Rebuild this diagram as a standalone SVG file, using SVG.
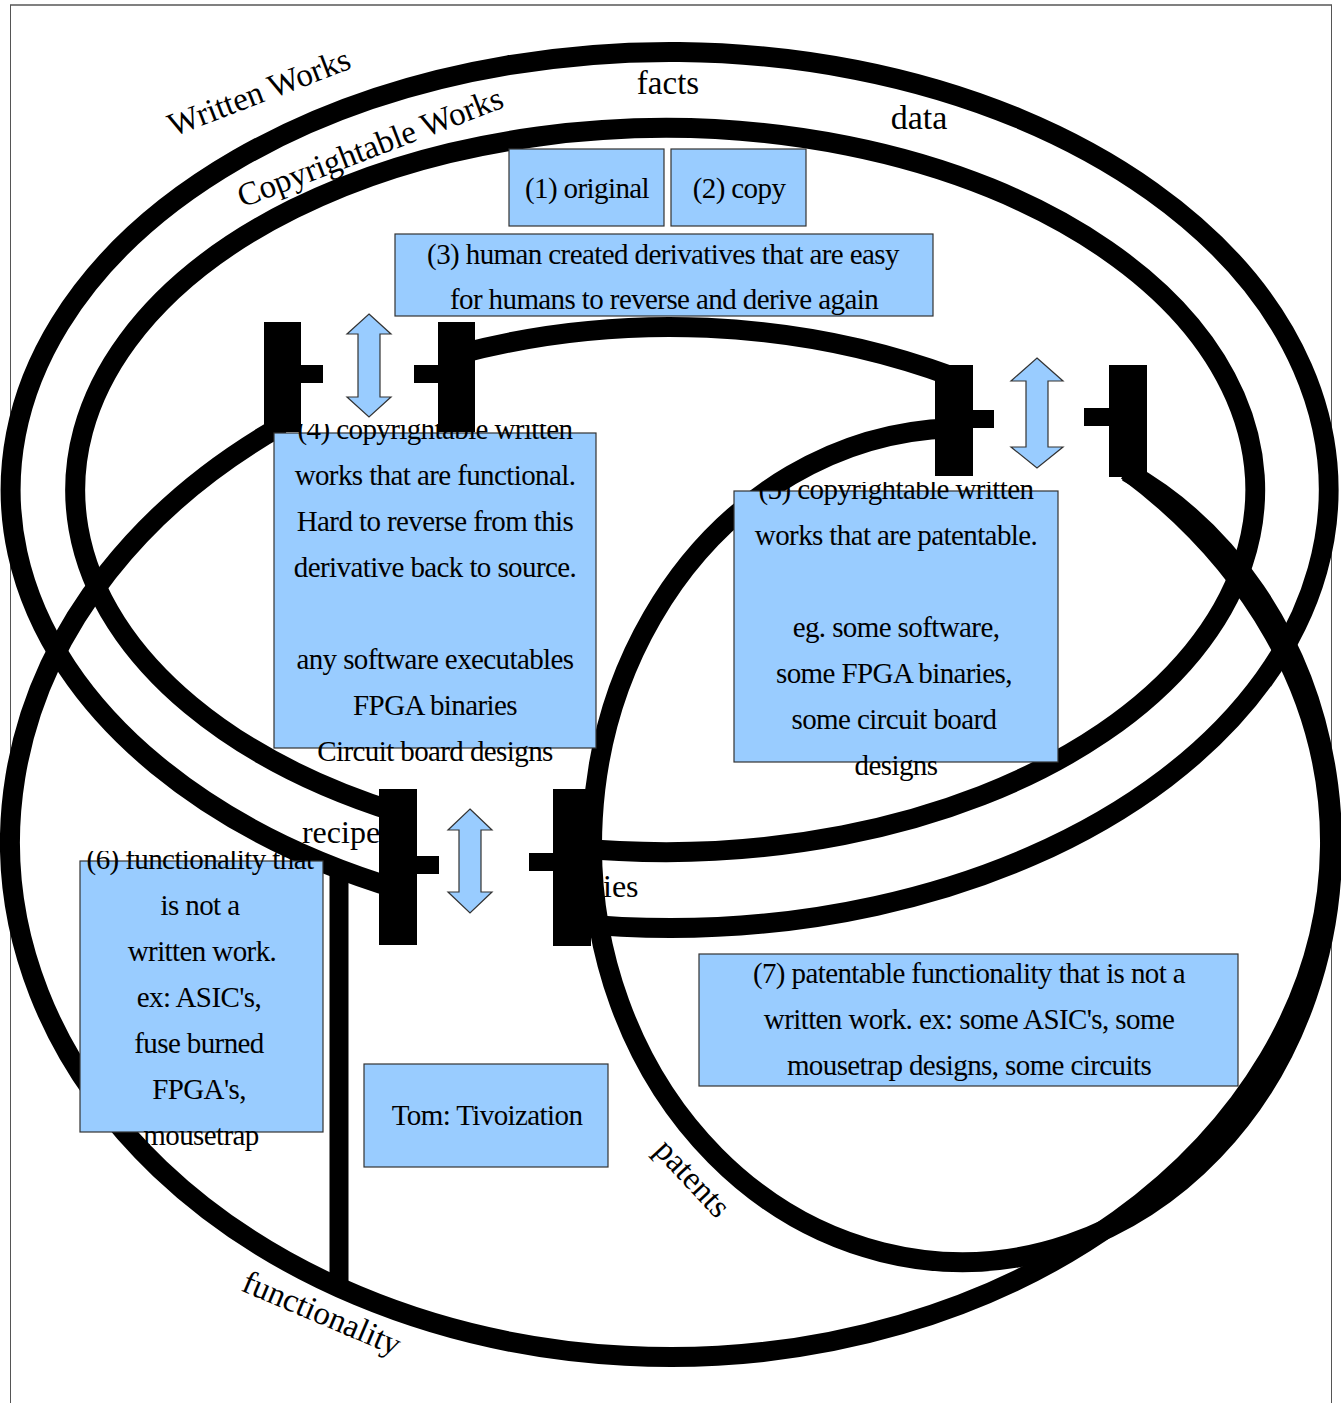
<svg xmlns="http://www.w3.org/2000/svg" width="1341" height="1403" viewBox="0 0 1341 1403">
<style>
.ring{fill:none;stroke:#000;stroke-width:20}
.box{fill:#99ccff;stroke:#333;stroke-width:1.2}
.bt{font-family:"Liberation Serif","Times New Roman",serif;font-size:29px;letter-spacing:-0.6px;text-anchor:middle;fill:#000}
.lbl{font-family:"Liberation Serif","Times New Roman",serif;font-size:33px;fill:#000}
.arr{fill:#99ccff;stroke:#333;stroke-width:1.2}
.bar{fill:#000}
</style>
<defs>
<clipPath id="c4"><rect x="270" y="424" width="340" height="360"/></clipPath>
<clipPath id="c5"><rect x="730" y="482" width="340" height="320"/></clipPath>
<clipPath id="c6"><rect x="70" y="851" width="270" height="310"/></clipPath>
</defs>
<rect width="1341" height="1403" fill="#fff"/>
<g id="frame">
<line x1="10" y1="5" x2="1332" y2="5" stroke="#808080" stroke-width="2"/>
<line x1="10.5" y1="5" x2="10.5" y2="1403" stroke="#555" stroke-width="1"/>
<line x1="1331.5" y1="5" x2="1331.5" y2="1403" stroke="#555" stroke-width="1"/>
</g>
<g id="connectors">
<path id="written-works" class="ring" d="M 572 923.1 A 659 438 0 1 0 398 889"/>
<path id="copyrightable-works" class="ring" d="M 572 847.5 A 590 362 0 1 0 398 812.8"/>
<path id="functionality-top" class="ring" d="M 457 354.6 A 660 515 0 0 1 952 376.4"/>
<path id="functionality" class="ring" d="M 1127 470.4 A 660 515 0 1 1 282 425.4"/>
<path id="patents" class="ring" d="M 952 428.2 A 370 417 0 1 0 1127 471.8"/>
<line id="divider" x1="339" y1="864" x2="339" y2="1292" stroke="#000" stroke-width="19"/>
</g>
<g id="labels">
<text class="lbl" transform="translate(259 92) rotate(-21)" text-anchor="middle" dominant-baseline="central">Written Works</text>
<text class="lbl" transform="translate(370 147) rotate(-21)" text-anchor="middle" dominant-baseline="central">Copyrightable Works</text>
<text class="lbl" x="668" y="94" text-anchor="middle">facts</text>
<text class="lbl" x="919" y="129" text-anchor="middle" style="font-size:34px">data</text>
<text class="lbl" x="341" y="843" text-anchor="middle" style="font-size:32px">recipe</text>
<text class="lbl" x="603" y="897" style="font-size:32px">ies</text>
<text class="lbl" transform="translate(693 1178) rotate(47)" text-anchor="middle" dominant-baseline="central">patents</text>
<text class="lbl" transform="translate(322 1313) rotate(23)" text-anchor="middle" dominant-baseline="central">functionality</text>
</g>
<g id="bracket-top-left">
<rect class="bar" x="264" y="322" width="37" height="110"/>
<rect class="bar" x="300" y="365" width="23" height="18"/>
<rect class="bar" x="438" y="322" width="37" height="110"/>
<rect class="bar" x="414" y="365" width="25" height="18"/>
<polygon class="arr" points="369,314 391,334 380,334 380,397 391,397 369,417 347,397 358,397 358,334 347,334"/>
</g>
<g id="bracket-top-right">
<rect class="bar" x="935" y="365" width="38" height="111"/>
<rect class="bar" x="972" y="410" width="22" height="18"/>
<rect class="bar" x="1109" y="365" width="38" height="112"/>
<rect class="bar" x="1084" y="408" width="26" height="18"/>
<polygon class="arr" points="1037,358 1063,381 1048,381 1048,447 1063,447 1037,468 1011,447 1026,447 1026,381 1011,381"/>
</g>
<g id="bracket-bottom">
<rect class="bar" x="379" y="789" width="38" height="156"/>
<rect class="bar" x="416" y="856" width="23" height="18"/>
<rect class="bar" x="553" y="789" width="38" height="157"/>
<rect class="bar" x="529" y="853" width="25" height="18"/>
<polygon class="arr" points="470,809 492,830 481,830 481,892 492,892 470,913 448,892 459,892 459,830 448,830"/>
</g>
<g id="node1">
<rect class="box" x="509" y="149" width="155" height="77"/>
<text class="bt" x="587" y="198">(1) original</text>
</g>
<g id="node2">
<rect class="box" x="671" y="149" width="135" height="77"/>
<text class="bt" x="739" y="198">(2) copy</text>
</g>
<g id="node3">
<rect class="box" x="395" y="234" width="538" height="82"/>
<text class="bt" x="663" y="264">(3) human created derivatives that are easy</text>
<text class="bt" x="664" y="309">for humans to reverse and derive again</text>
</g>
<g id="node4">
<rect class="box" x="274" y="433" width="322" height="315"/>
<g clip-path="url(#c4)">
<text class="bt" x="435" y="439">(4) copyrightable written</text>
<text class="bt" x="435" y="485">works that are functional.</text>
<text class="bt" x="435" y="531">Hard to reverse from this</text>
<text class="bt" x="435" y="577">derivative back to source.</text>
<text class="bt" x="435" y="669">any software executables</text>
<text class="bt" x="435" y="715">FPGA binaries</text>
<text class="bt" x="435" y="761">Circuit board designs</text>
</g>
</g>
<g id="node5">
<rect class="box" x="734" y="491" width="324" height="271"/>
<g clip-path="url(#c5)">
<text class="bt" x="896" y="499">(5) copyrightable written</text>
<text class="bt" x="896" y="545">works that are patentable.</text>
<text class="bt" x="896" y="637">eg. some software,</text>
<text class="bt" x="894" y="683">some FPGA binaries,</text>
<text class="bt" x="894" y="729">some circuit board</text>
<text class="bt" x="896" y="775">designs</text>
</g>
</g>
<g id="node6">
<rect class="box" x="80" y="861" width="243" height="271"/>
<g clip-path="url(#c6)">
<text class="bt" x="200" y="869">(6) functionality that</text>
<text class="bt" x="200" y="915">is not a</text>
<text class="bt" x="202" y="961">written work.</text>
<text class="bt" x="199" y="1007">ex: ASIC's,</text>
<text class="bt" x="199" y="1053">fuse burned</text>
<text class="bt" x="199" y="1099">FPGA's,</text>
<text class="bt" x="201" y="1145">mousetrap</text>
</g>
</g>
<g id="node7">
<rect class="box" x="699" y="954" width="539" height="132"/>
<text class="bt" x="969" y="983">(7) patentable functionality that is not a</text>
<text class="bt" x="969" y="1029">written work. ex: some ASIC's, some</text>
<text class="bt" x="969" y="1075">mousetrap designs, some circuits</text>
</g>
<g id="node8">
<rect class="box" x="364" y="1064" width="244" height="103"/>
<text class="bt" x="487" y="1125">Tom: Tivoization</text>
</g>
</svg>
